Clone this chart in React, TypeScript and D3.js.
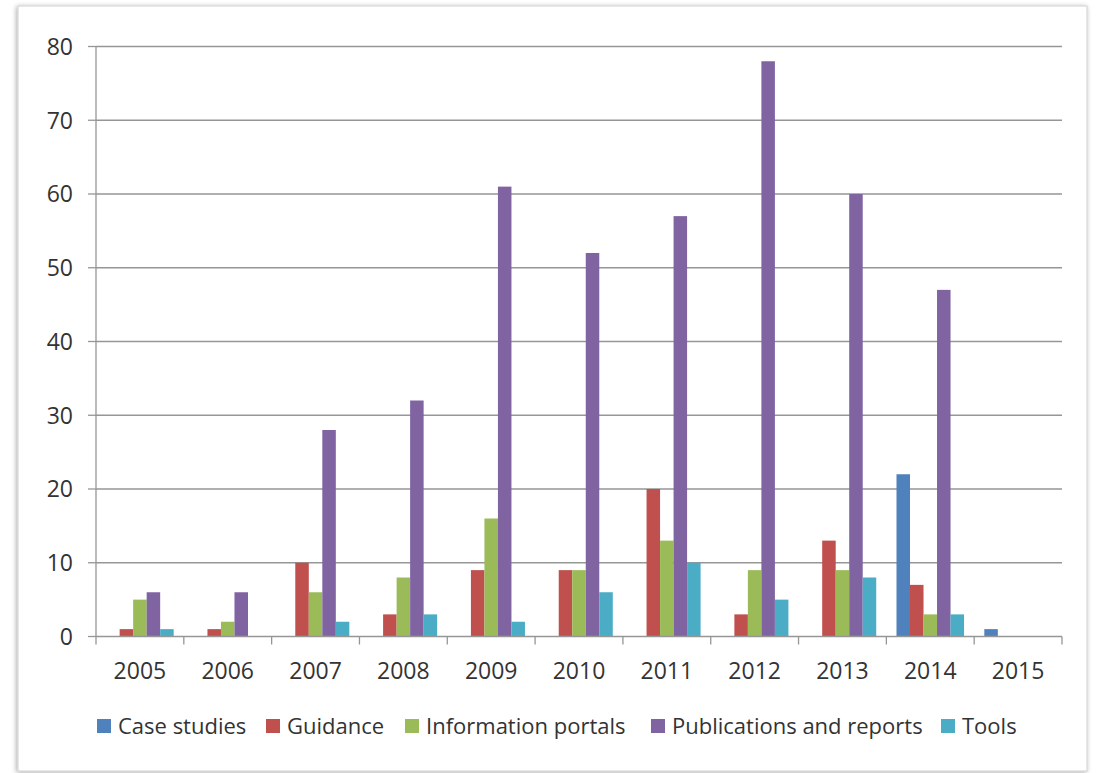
import * as d3 from "d3";

const years = ["2005", "2006", "2007", "2008", "2009", "2010", "2011", "2012", "2013", "2014", "2015"];
const seriesNames = ["Case studies", "Guidance", "Information portals", "Publications and reports", "Tools"];
const caseStudies = [0, 0, 0, 0, 0, 0, 0, 0, 0, 22, 1];
const guidance = [1, 1, 10, 3, 9, 9, 20, 3, 13, 7, 0];
const infoPortals = [5, 2, 6, 8, 16, 9, 13, 9, 9, 3, 0];
const publications = [6, 6, 28, 32, 61, 52, 57, 78, 60, 47, 0];
const tools = [1, 0, 2, 3, 2, 6, 10, 5, 8, 3, 0];
const yTicks = [0, 10, 20, 30, 40, 50, 60, 70, 80];
const colors = ["#4F81BD", "#C0504D", "#9BBB59", "#8064A2", "#4BACC6"];

const W = 1099;
const H = 773;
const left = 96, right = 1062, top = 46.5, bottom = 636.5;
const font = "'Open Sans', 'DejaVu Sans', sans-serif";

export default function App() {
  const values = [caseStudies, guidance, infoPortals, publications, tools];
  const x = d3.scaleBand<string>().domain(years).range([left, right]).padding(0);
  const inner = d3.scaleBand<string>().domain(seriesNames).range([0, x.bandwidth()]).paddingInner(0).paddingOuter(0.75);
  const y = d3.scaleLinear().domain([0, 80]).range([bottom, top]);

  const legendX = [97, 266, 405, 651, 941];

  return (
    <svg width={W} height={H} style={{ position: "absolute", left: 0, top: 0 }}>
      <defs>
        <filter id="sh" x="-5%" y="-5%" width="110%" height="110%">
          <feGaussianBlur in="SourceAlpha" stdDeviation="2.5" />
          <feOffset dx="-1" dy="1" />
          <feComponentTransfer><feFuncA type="linear" slope="0.35" /></feComponentTransfer>
          <feMerge><feMergeNode /><feMergeNode in="SourceGraphic" /></feMerge>
        </filter>
      </defs>
      <rect x={0} y={0} width={W} height={H} fill="#fff" />
      <rect x={18} y={6} width={1069} height={765} fill="#fff" stroke="#d0d0d0" strokeWidth={1} filter="url(#sh)" />

      {yTicks.map(t => (
        <g key={t}>
          {t > 0 && <line x1={left} x2={right} y1={y(t)} y2={y(t)} stroke="#969696" strokeWidth={1.3} />}
          <line x1={88} x2={left} y1={y(t)} y2={y(t)} stroke="#969696" strokeWidth={1.3} />
          <text x={73} y={y(t)} dy="0.36em" textAnchor="end" fontFamily={font} fontSize={23} fill="#333">{t}</text>
        </g>
      ))}

      {values.map((vals, si) =>
        vals.map((v, i) => v > 0 && (
          <rect key={`${si}-${i}`}
            x={(x(years[i]) as number) + (inner(seriesNames[si]) as number)}
            y={y(v)} width={inner.bandwidth()} height={bottom - y(v)}
            fill={colors[si]} />
        ))
      )}

      <line x1={left} x2={left} y1={top} y2={bottom} stroke="#969696" strokeWidth={1.3} />
      <line x1={left} x2={right} y1={bottom} y2={bottom} stroke="#969696" strokeWidth={1.3} />
      {[...years.map(yr => x(yr) as number), right].map((px, i) => (
        <line key={i} x1={px} x2={px} y1={bottom} y2={bottom + 8} stroke="#969696" strokeWidth={1.3} />
      ))}
      {years.map(yr => (
        <text key={yr} x={(x(yr) as number) + x.bandwidth() / 2} y={670.5} dy="0.36em" textAnchor="middle"
          fontFamily={font} fontSize={23} fill="#333">{yr}</text>
      ))}

      {seriesNames.map((n, i) => (
        <g key={n}>
          <rect x={legendX[i]} y={719} width={14} height={14} fill={colors[i]} />
          <text x={legendX[i] + 21} y={726} dy="0.36em" fontFamily={font} fontSize={22} fill="#333">{n}</text>
        </g>
      ))}
    </svg>
  );
}
